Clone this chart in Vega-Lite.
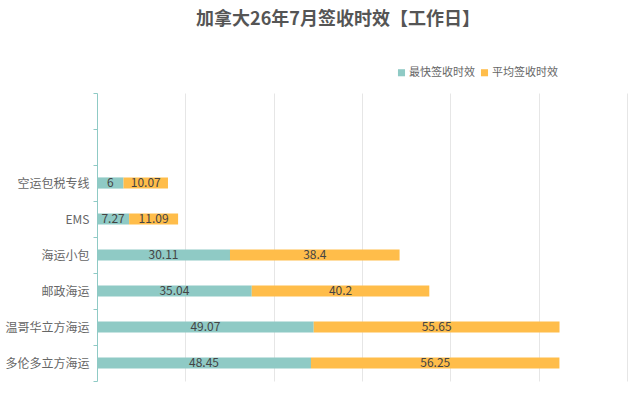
{
  "$schema": "https://vega.github.io/schema/vega-lite/v6.json",
  "autosize": "none",
  "width": 530,
  "height": 288,
  "padding": {"left": 97, "top": 93, "right": 15, "bottom": 39},
  "background": "white",
  "title": {
    "text": "加拿大26年7月签收时效【工作日】",
    "font": "Noto Sans CJK SC",
    "fontSize": 18,
    "fontWeight": "bold",
    "color": "#555555",
    "anchor": "middle",
    "frame": "group",
    "dx": -24,
    "offset": 38
  },
  "data": {
    "values": [
      {"cat": "空运包税专线", "series": "最快签收时效", "o": 1, "value": 6},
      {"cat": "空运包税专线", "series": "平均签收时效", "o": 2, "value": 10.07},
      {"cat": "EMS", "series": "最快签收时效", "o": 1, "value": 7.27},
      {"cat": "EMS", "series": "平均签收时效", "o": 2, "value": 11.09},
      {"cat": "海运小包", "series": "最快签收时效", "o": 1, "value": 30.11},
      {"cat": "海运小包", "series": "平均签收时效", "o": 2, "value": 38.4},
      {"cat": "邮政海运", "series": "最快签收时效", "o": 1, "value": 35.04},
      {"cat": "邮政海运", "series": "平均签收时效", "o": 2, "value": 40.2},
      {"cat": "温哥华立方海运", "series": "最快签收时效", "o": 1, "value": 49.07},
      {"cat": "温哥华立方海运", "series": "平均签收时效", "o": 2, "value": 55.65},
      {"cat": "多伦多立方海运", "series": "最快签收时效", "o": 1, "value": 48.45},
      {"cat": "多伦多立方海运", "series": "平均签收时效", "o": 2, "value": 56.25}
    ]
  },
  "transform": [
    {"stack": "value", "groupby": ["cat"], "sort": [{"field": "o"}], "as": ["x0", "x1"]},
    {"calculate": "(datum.x0 + datum.x1) / 2", "as": "mid"}
  ],
  "encoding": {
    "y": {
      "field": "cat",
      "type": "nominal",
      "title": null,
      "scale": {
        "domain": [" ", "  ", "空运包税专线", "EMS", "海运小包", "邮政海运", "温哥华立方海运", "多伦多立方海运"],
        "paddingInner": 0,
        "paddingOuter": 0
      },
      "axis": {
        "tickBand": "extent",
        "domainColor": "#8fcac5",
        "tickColor": "#8fcac5",
        "tickSize": 4,
        "labelPadding": 4,
        "labelFont": "Noto Sans CJK SC",
        "labelFontSize": 12,
        "labelColor": "#666666",
        "grid": false
      }
    }
  },
  "layer": [
    {
      "mark": {"type": "bar", "height": {"band": 0.31}},
      "encoding": {
        "x": {
          "field": "x0",
          "type": "quantitative",
          "title": null,
          "scale": {"domain": [0, 120], "nice": false},
          "axis": {
            "values": [20, 40, 60, 80, 100, 120],
            "labels": false,
            "ticks": false,
            "domain": false,
            "grid": true,
            "gridColor": "#e6e6e6"
          }
        },
        "x2": {"field": "x1"},
        "color": {
          "field": "series",
          "type": "nominal",
          "scale": {
            "domain": ["最快签收时效", "平均签收时效"],
            "range": ["#8fcac5", "#ffbd4a"]
          },
          "legend": {
            "title": null,
            "orient": "none",
            "direction": "horizontal",
            "legendX": 299,
            "legendY": -26,
            "symbolType": "square",
            "symbolSize": 50,
            "symbolStrokeWidth": 0,
            "labelFont": "Noto Sans CJK SC",
            "labelFontSize": 11,
            "labelColor": "#666666",
            "labelOffset": 2,
            "columnPadding": 4
          }
        }
      }
    },
    {
      "mark": {
        "type": "text",
        "font": "Noto Sans CJK SC",
        "fontSize": 12,
        "color": "#444444",
        "baseline": "middle"
      },
      "encoding": {
        "x": {"field": "mid", "type": "quantitative"},
        "text": {"field": "value", "type": "quantitative"}
      }
    }
  ],
  "config": {
    "view": {"stroke": null}
  }
}
